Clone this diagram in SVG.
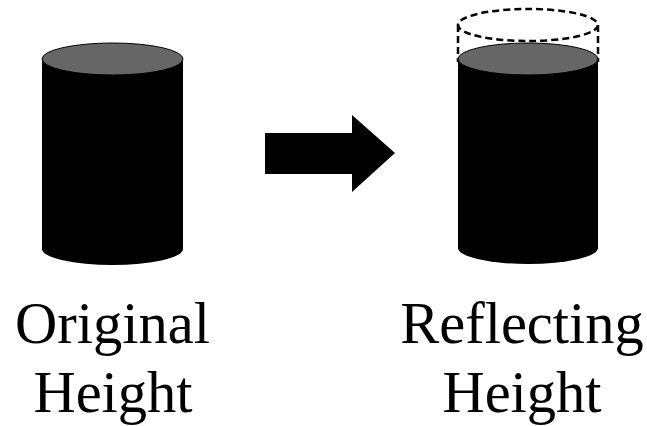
<svg xmlns="http://www.w3.org/2000/svg" width="647" height="426" viewBox="0 0 647 426">
<style>
.body{fill:#000;stroke:none}
.top{fill:#666;stroke:#000;stroke-width:1}
.dash{fill:none;stroke:#000;stroke-width:2.5;stroke-dasharray:7 4}
.lbl{font-family:"Liberation Serif","Times New Roman",serif;font-size:58.5px;fill:#000;text-anchor:middle}
</style>
<rect width="647" height="426" fill="#fff"/>
<g id="original">
<path class="body" d="M42,59 L42,249 A70.5,16 0 0 0 183,249 L183,59 Z"/>
<ellipse class="top" cx="112.5" cy="59" rx="70.5" ry="16"/>
</g>
<g id="reflecting">
<path class="dash" d="M458,25 L458,62 M598,25 L598,62"/>
<ellipse class="dash" cx="528" cy="25" rx="70" ry="16"/>
<path class="body" d="M458,59 L458,248 A70,16 0 0 0 598,248 L598,59 Z"/>
<ellipse class="top" cx="528" cy="59" rx="70" ry="16"/>
</g>
<g id="connectors">
<polygon id="arrow" fill="#000" points="265,133 352,133 352,115 395,153 352,192 352,174 265,174"/>
</g>
<g id="labels">
<text class="lbl" x="112.5" y="343">Original</text>
<text class="lbl" x="113" y="412">Height</text>
<text class="lbl" x="522" y="343">Reflecting</text>
<text class="lbl" x="522" y="412">Height</text>
</g>
</svg>
